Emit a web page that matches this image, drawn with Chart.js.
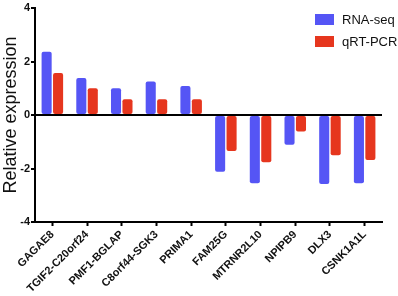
<!DOCTYPE html>
<html>
<head>
<meta charset="utf-8">
<script src="https://cdn.jsdelivr.net/npm/chart.js@4/dist/chart.umd.min.js"></script>
<style>
  html, body { margin: 0; padding: 0; background: #fff; }
  #wrap { width: 398px; height: 296px; }
</style>
</head>
<body>
<div id="wrap"><canvas id="exprChart" width="398" height="296"></canvas></div>
<script>
// genes on the x axis
const genes = ['GAGAE8', 'TGIF2-C20orf24', 'PMF1-BGLAP', 'C8orf44-SGK3', 'PRIMA1',
               'FAM25G', 'MTRNR2L10', 'NPIPB9', 'DLX3', 'CSNK1A1L'];
// values
const rnaSeq = [2.36, 1.38, 1.0, 1.25, 1.08, -2.12, -2.55, -1.11, -2.58, -2.55];
const qrtPcr = [1.57, 1.0, 0.59, 0.59, 0.59, -1.35, -1.77, -0.62, -1.5, -1.68];
const yTicks = [-4, -2, 0, 2, 4];

const FONT = '"Liberation Sans", Arial, sans-serif';

// legend drawn inside the plot, top right, stacked
const insideLegend = {
    id: 'insideLegend',
    afterDraw(chart) {
        const ctx = chart.ctx;
        ctx.save();
        ctx.font = '13px ' + FONT;
        ctx.textBaseline = 'middle';
        chart.data.datasets.forEach((ds, i) => {
            const y = 14 + i * 22;
            ctx.fillStyle = ds.backgroundColor;
            ctx.fillRect(315, y, 19, 11);
            ctx.fillStyle = '#111';
            ctx.fillText(ds.label, 342, y + 6);
        });
        ctx.restore();
    }
};

new Chart(document.getElementById('exprChart'), {
    type: 'bar',
    data: {
        labels: genes,
        datasets: [
            {
                label: 'RNA-seq',
                data: rnaSeq,
                backgroundColor: '#5555f5',
                borderRadius: 2,
                borderSkipped: false
            },
            {
                label: 'qRT-PCR',
                data: qrtPcr,
                backgroundColor: '#e6361e',
                borderRadius: 2,
                borderSkipped: false
            }
        ]
    },
    options: {
        responsive: false,
        animation: false,
        devicePixelRatio: 1,
        categoryPercentage: 0.66,
        barPercentage: 0.88,
        layout: { padding: { top: 8, right: 16 } },
        plugins: {
            legend: { display: false },
            tooltip: { enabled: false }
        },
        scales: {
            x: {
                offset: true,
                grid: {
                    offset: false,
                    drawOnChartArea: false,
                    tickColor: '#000',
                    tickWidth: 2,
                    tickLength: 4
                },
                border: { color: '#000', width: 2 },
                ticks: {
                    color: '#111',
                    font: { family: FONT, size: 11, weight: 'bold' },
                    minRotation: 45,
                    maxRotation: 45,
                    autoSkip: false,
                    padding: 2
                },
                afterFit(scale) { scale.height = 74; }
            },
            y: {
                min: -4,
                max: 4,
                afterBuildTicks(scale) { scale.ticks = yTicks.map(v => ({ value: v })); },
                grid: {
                    color: c => c.tick && c.tick.value === 0 ? '#000' : 'rgba(0,0,0,0)',
                    lineWidth: 2,
                    tickColor: '#000',
                    tickWidth: 2,
                    tickLength: 4
                },
                border: { color: '#000', width: 2 },
                ticks: {
                    color: '#111',
                    font: { family: FONT, size: 11, weight: 'bold' },
                    padding: 1
                },
                title: {
                    display: true,
                    text: 'Relative expression',
                    color: '#111',
                    font: { family: FONT, size: 18 },
                    padding: 0
                },
                afterFit(scale) { scale.width = 35; }
            }
        }
    },
    plugins: [insideLegend]
});
</script>
</body>
</html>
